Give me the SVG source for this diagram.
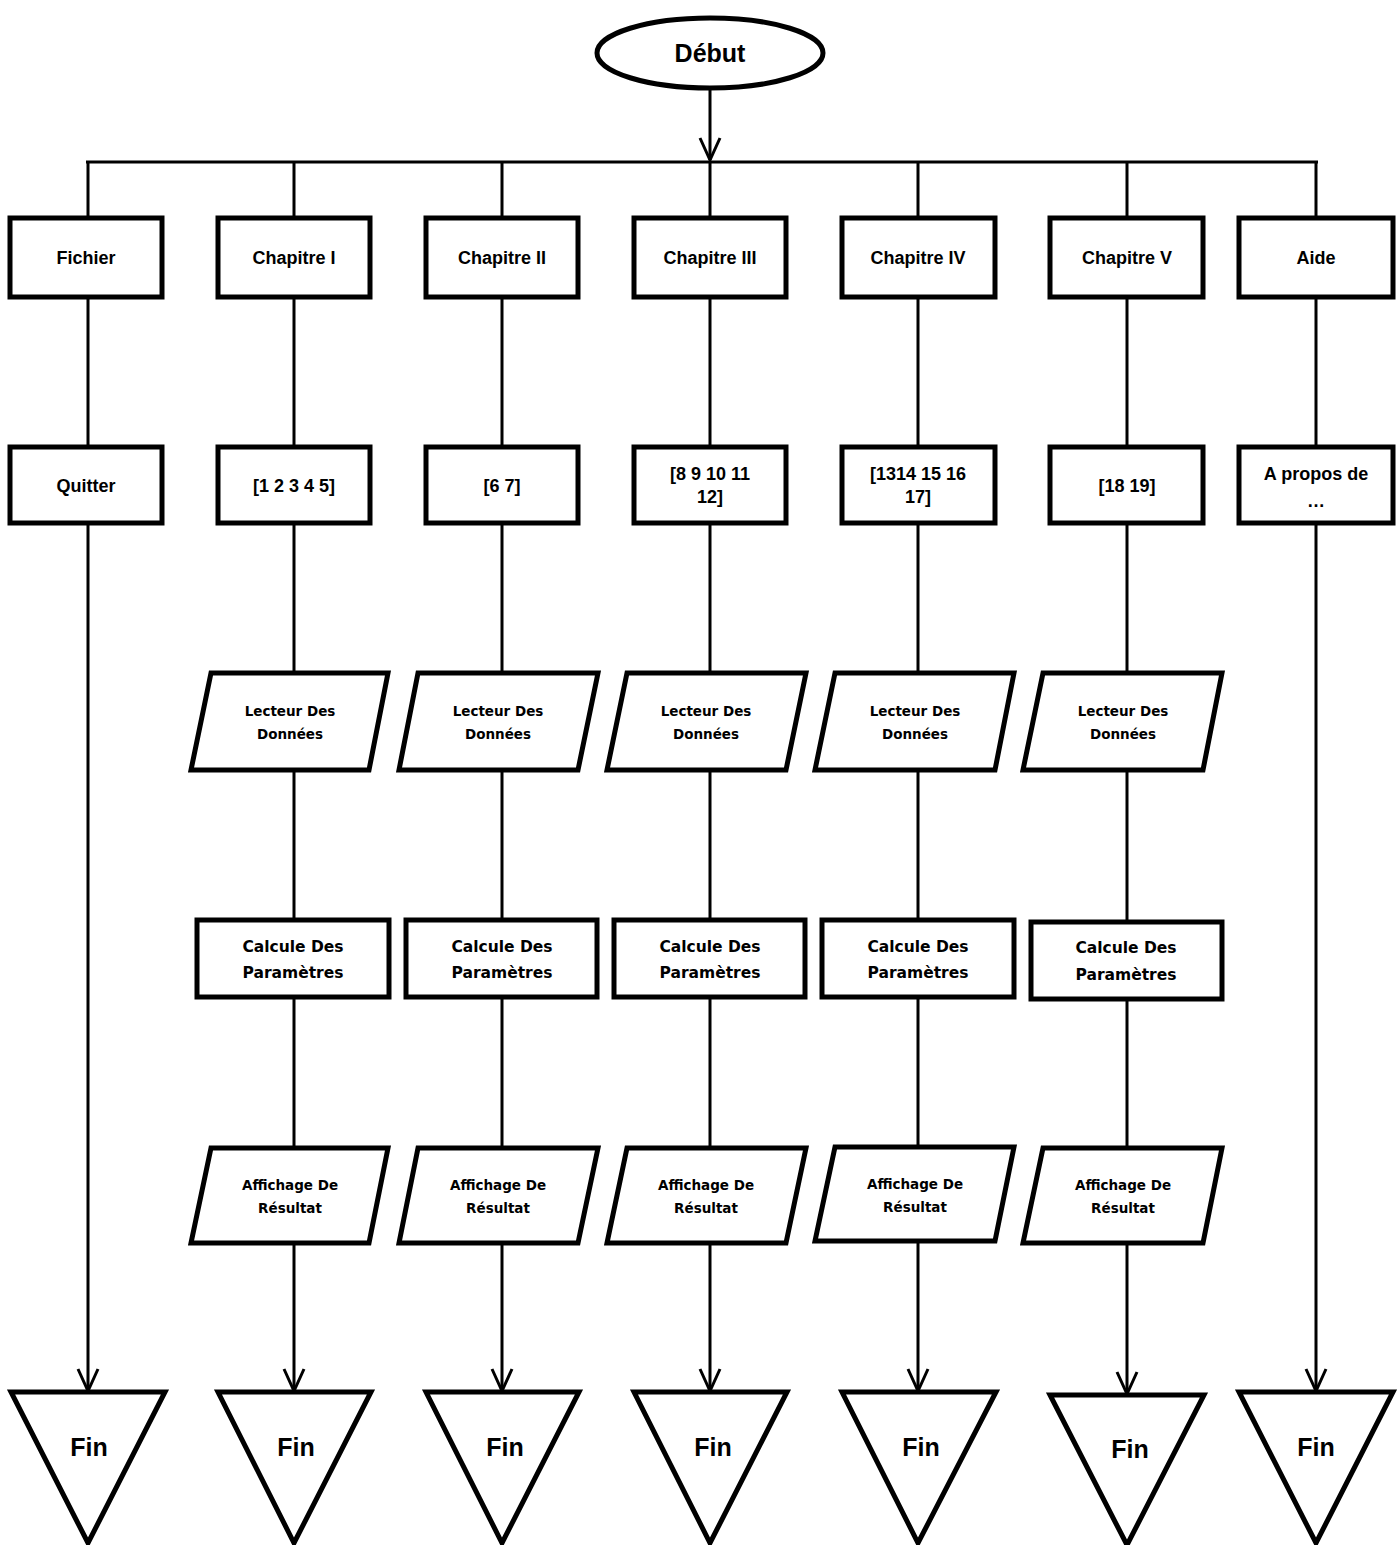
<svg xmlns="http://www.w3.org/2000/svg" width="1400" height="1545" viewBox="0 0 1400 1545">
<style>
.sh{fill:#fff;stroke:#000;stroke-width:5;stroke-linejoin:miter}
.ln{fill:none;stroke:#000;stroke-width:3}
.ar{marker-end:url(#ah)}
.t{font-family:"Liberation Sans",Arial,sans-serif;font-weight:bold;font-size:18px;text-anchor:middle;fill:#000}
.w{font-family:"DejaVu Sans",Verdana,sans-serif;font-weight:bold;font-size:13.5px;text-anchor:middle;fill:#000}
.c{font-family:"DejaVu Sans",Verdana,sans-serif;font-weight:bold;font-size:15.5px;text-anchor:middle;fill:#000}
.big{font-family:"Liberation Sans",Arial,sans-serif;font-weight:bold;font-size:25px;text-anchor:middle;fill:#000}
</style>
<defs>
<marker id="ah" markerUnits="userSpaceOnUse" markerWidth="26" markerHeight="26" viewBox="-24 -13 26 26" refX="0" refY="0" orient="auto">
<path d="M-22,-10 L0,0 L-22,10" fill="none" stroke="#000" stroke-width="3"/>
</marker>
</defs>
<rect width="1400" height="1545" fill="#fff"/>

<g id="connectors">
<line class="ln ar" x1="710" y1="88" x2="710" y2="160"/>
<line class="ln" x1="86" y1="162" x2="1318" y2="162"/>
<path class="ln" d="M88,162V218 M294,162V218 M502,162V218 M710,162V218 M918,162V218 M1127,162V218 M1316,162V218"/>
<path class="ln" d="M88,297V447 M294,297V447 M502,297V447 M710,297V447 M918,297V447 M1127,297V447 M1316,297V447"/>
<path class="ln" d="M294,523V673 M502,523V673 M710,523V673 M918,523V673 M1127,523V673"/>
<path class="ln" d="M294,770V920 M502,770V920 M710,770V920 M918,770V920 M1127,770V922"/>
<path class="ln" d="M294,997V1148 M502,997V1148 M710,997V1148 M918,997V1147 M1127,999V1148"/>
<line class="ln ar" x1="88" y1="523" x2="88" y2="1391"/>
<line class="ln ar" x1="294" y1="1243" x2="294" y2="1391"/>
<line class="ln ar" x1="502" y1="1243" x2="502" y2="1391"/>
<line class="ln ar" x1="710" y1="1243" x2="710" y2="1391"/>
<line class="ln ar" x1="918" y1="1241" x2="918" y2="1391"/>
<line class="ln ar" x1="1127" y1="1243" x2="1127" y2="1394"/>
<line class="ln ar" x1="1316" y1="523" x2="1316" y2="1391"/>
</g>

<g id="debut">
<ellipse class="sh" cx="710" cy="53" rx="113" ry="35"/>
<text class="big" x="710" y="62">Début</text>
</g>

<g id="fichier"><rect class="sh" x="10" y="218" width="152" height="79"/><text class="t" x="86" y="264">Fichier</text></g>
<g id="chap1"><rect class="sh" x="218" y="218" width="152" height="79"/><text class="t" x="294" y="264">Chapitre I</text></g>
<g id="chap2"><rect class="sh" x="426" y="218" width="152" height="79"/><text class="t" x="502" y="264">Chapitre II</text></g>
<g id="chap3"><rect class="sh" x="634" y="218" width="152" height="79"/><text class="t" x="710" y="264">Chapitre III</text></g>
<g id="chap4"><rect class="sh" x="842" y="218" width="153" height="79"/><text class="t" x="918" y="264">Chapitre IV</text></g>
<g id="chap5"><rect class="sh" x="1050" y="218" width="153" height="79"/><text class="t" x="1127" y="264">Chapitre V</text></g>
<g id="aide"><rect class="sh" x="1239" y="218" width="154" height="79"/><text class="t" x="1316" y="264">Aide</text></g>

<g id="quitter"><rect class="sh" x="10" y="447" width="152" height="76"/><text class="t" x="86" y="492">Quitter</text></g>
<g id="l1"><rect class="sh" x="218" y="447" width="152" height="76"/><text class="t" x="294" y="492">[1 2 3 4 5]</text></g>
<g id="l2"><rect class="sh" x="426" y="447" width="152" height="76"/><text class="t" x="502" y="492">[6 7]</text></g>
<g id="l3"><rect class="sh" x="634" y="447" width="152" height="76"/><text class="t" x="710" y="480">[8 9 10 11</text><text class="t" x="710" y="503">12]</text></g>
<g id="l4"><rect class="sh" x="842" y="447" width="153" height="76"/><text class="t" x="918" y="480">[1314 15 16</text><text class="t" x="918" y="503">17]</text></g>
<g id="l5"><rect class="sh" x="1050" y="447" width="153" height="76"/><text class="t" x="1127" y="492">[18 19]</text></g>
<g id="apropos"><rect class="sh" x="1239" y="447" width="154" height="76"/><text class="t" x="1316" y="480">A propos de</text><text class="t" x="1316" y="507">…</text></g>

<g id="lect1"><polygon class="sh" points="211,673 388,673 369,770 191,770"/><text class="w" x="290" y="716">Lecteur Des</text><text class="w" x="290" y="739">Données</text></g>
<g id="lect2"><polygon class="sh" points="418,673 598,673 578,770 399,770"/><text class="w" x="498" y="716">Lecteur Des</text><text class="w" x="498" y="739">Données</text></g>
<g id="lect3"><polygon class="sh" points="627,673 806,673 786,770 607,770"/><text class="w" x="706" y="716">Lecteur Des</text><text class="w" x="706" y="739">Données</text></g>
<g id="lect4"><polygon class="sh" points="835,673 1014,673 995,770 815,770"/><text class="w" x="915" y="716">Lecteur Des</text><text class="w" x="915" y="739">Données</text></g>
<g id="lect5"><polygon class="sh" points="1043,673 1222,673 1203,770 1023,770"/><text class="w" x="1123" y="716">Lecteur Des</text><text class="w" x="1123" y="739">Données</text></g>

<g id="calc1"><rect class="sh" x="197" y="920" width="192" height="77"/><text class="c" x="293" y="952">Calcule Des</text><text class="c" x="293" y="978">Paramètres</text></g>
<g id="calc2"><rect class="sh" x="406" y="920" width="191" height="77"/><text class="c" x="502" y="952">Calcule Des</text><text class="c" x="502" y="978">Paramètres</text></g>
<g id="calc3"><rect class="sh" x="614" y="920" width="191" height="77"/><text class="c" x="710" y="952">Calcule Des</text><text class="c" x="710" y="978">Paramètres</text></g>
<g id="calc4"><rect class="sh" x="822" y="920" width="192" height="77"/><text class="c" x="918" y="952">Calcule Des</text><text class="c" x="918" y="978">Paramètres</text></g>
<g id="calc5"><rect class="sh" x="1031" y="922" width="191" height="77"/><text class="c" x="1126" y="953">Calcule Des</text><text class="c" x="1126" y="980">Paramètres</text></g>

<g id="aff1"><polygon class="sh" points="211,1148 388,1148 369,1243 191,1243"/><text class="w" x="290" y="1190">Affichage De</text><text class="w" x="290" y="1213">Résultat</text></g>
<g id="aff2"><polygon class="sh" points="418,1148 598,1148 578,1243 399,1243"/><text class="w" x="498" y="1190">Affichage De</text><text class="w" x="498" y="1213">Résultat</text></g>
<g id="aff3"><polygon class="sh" points="627,1148 806,1148 786,1243 607,1243"/><text class="w" x="706" y="1190">Affichage De</text><text class="w" x="706" y="1213">Résultat</text></g>
<g id="aff4"><polygon class="sh" points="835,1147 1014,1147 995,1241 815,1241"/><text class="w" x="915" y="1189">Affichage De</text><text class="w" x="915" y="1212">Résultat</text></g>
<g id="aff5"><polygon class="sh" points="1043,1148 1222,1148 1203,1243 1023,1243"/><text class="w" x="1123" y="1190">Affichage De</text><text class="w" x="1123" y="1213">Résultat</text></g>

<g id="fin0"><polygon class="sh" points="11,1392 165,1392 88,1543"/><text class="big" x="89" y="1456">Fin</text></g>
<g id="fin1"><polygon class="sh" points="218,1392 371,1392 294,1543"/><text class="big" x="296" y="1456">Fin</text></g>
<g id="fin2"><polygon class="sh" points="426,1392 579,1392 502,1543"/><text class="big" x="505" y="1456">Fin</text></g>
<g id="fin3"><polygon class="sh" points="634,1392 787,1392 710,1543"/><text class="big" x="713" y="1456">Fin</text></g>
<g id="fin4"><polygon class="sh" points="842,1392 996,1392 918,1543"/><text class="big" x="921" y="1456">Fin</text></g>
<g id="fin5"><polygon class="sh" points="1050,1395 1204,1395 1127,1545"/><text class="big" x="1130" y="1458">Fin</text></g>
<g id="fin6"><polygon class="sh" points="1239,1392 1393,1392 1316,1543"/><text class="big" x="1316" y="1456">Fin</text></g>
</svg>
